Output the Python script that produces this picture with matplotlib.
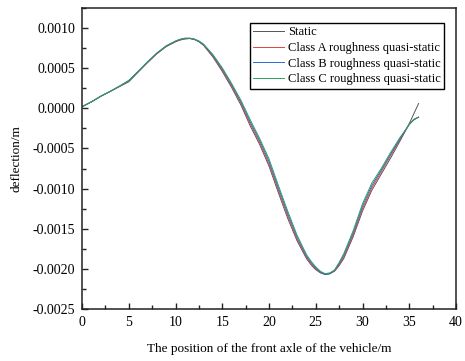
import matplotlib
matplotlib.use("Agg")
import matplotlib.pyplot as plt
from matplotlib.ticker import MultipleLocator, FormatStrFormatter

plt.rcParams['font.family'] = ['Liberation Serif', 'DejaVu Serif']
plt.rcParams['axes.unicode_minus'] = False

# Data (deflection values in units of 1e-4 m)
scale = 1e-4
position = [0, 1, 2, 3, 4, 5, 6, 7, 8, 9, 10, 10.5, 11, 11.5, 12, 12.5, 13, 14, 15, 16,
            17, 18, 19, 20, 21, 22, 23, 24, 24.5, 25, 25.5, 26, 26.5, 27, 27.5, 28,
            29, 30, 31, 32, 33, 34, 35, 35.5, 36]

static = [0.2, 0.8, 1.5, 2.1, 2.7, 3.3, 4.5, 5.7, 6.8, 7.7, 8.3, 8.52, 8.65, 8.7, 8.6, 8.3,
          7.85, 6.4, 4.6, 2.6, 0.4, -2.2, -4.5, -7.2, -10.5, -13.7, -16.5, -18.7, -19.5,
          -20.1, -20.5, -20.7, -20.6, -20.3, -19.6, -18.7, -16.0, -12.8, -10.2, -8.2,
          -6.2, -4.1, -1.9, -0.65, 0.6]

class_a = [0.2, 0.8, 1.5, 2.1, 2.75, 3.45, 4.55, 5.7, 6.8, 7.7, 8.3, 8.52, 8.65, 8.7, 8.6,
           8.32, 7.9, 6.5, 4.75, 2.8, 0.6, -1.95, -4.25, -6.9, -10.2, -13.4, -16.3,
           -18.55, -19.35, -20.0, -20.45, -20.7, -20.6, -20.25, -19.5, -18.5, -15.75,
           -12.5, -9.9, -7.9, -5.9, -3.9, -2.0, -1.35, -1.1]

class_b = [0.2, 0.8, 1.5, 2.1, 2.75, 3.45, 4.6, 5.75, 6.85, 7.75, 8.35, 8.57, 8.7, 8.72,
           8.6, 8.35, 7.95, 6.6, 4.9, 2.95, 0.8, -1.7, -4.0, -6.6, -9.9, -13.1, -16.05,
           -18.4, -19.2, -19.9, -20.4, -20.7, -20.6, -20.2, -19.35, -18.3, -15.5, -12.2,
           -9.6, -7.7, -5.7, -3.8, -2.0, -1.4, -1.1]

class_c = [0.2, 0.8, 1.5, 2.1, 2.75, 3.45, 4.6, 5.8, 6.9, 7.8, 8.4, 8.62, 8.75, 8.75,
           8.65, 8.4, 8.0, 6.7, 5.05, 3.1, 1.0, -1.45, -3.75, -6.3, -9.6, -12.8, -15.8,
           -18.2, -19.05, -19.75, -20.3, -20.6, -20.5, -20.15, -19.2, -18.1, -15.25,
           -11.9, -9.3, -7.5, -5.5, -3.65, -2.0, -1.45, -1.1]

labels = ["Static", "Class A roughness quasi-static",
          "Class B roughness quasi-static", "Class C roughness quasi-static"]
colors = ["#555555", "#e8403c", "#2a6ad8", "#2ca062"]

fig = plt.figure(figsize=(4.65, 3.61), dpi=100)
ax = fig.add_axes([82/465, 1 - 309/361, 374/465, 301/361])

for series, lab, col in zip([static, class_a, class_b, class_c], labels, colors):
    ax.plot(position, [v * scale for v in series], color=col, lw=0.7, label=lab)

ax.set_xlim(0, 40)
ax.set_ylim(-0.0025, 0.00125)
ax.xaxis.set_major_locator(MultipleLocator(5))
ax.xaxis.set_minor_locator(MultipleLocator(2.5))
ax.yaxis.set_major_locator(MultipleLocator(0.0005))
ax.yaxis.set_minor_locator(MultipleLocator(0.00025))
ax.yaxis.set_major_formatter(FormatStrFormatter('%.4f'))
ax.tick_params(which='both', direction='in', top=False, right=False,
               labelsize=10, width=1.0, colors='#222222', labelcolor='black')
ax.tick_params(which='major', length=4.5, pad=5)
ax.tick_params(which='minor', length=3)
for s in ax.spines.values():
    s.set_linewidth(1.1)
    s.set_color('#222222')

ax.set_xlabel("The position of the front axle of the vehicle/m", fontsize=9.5, labelpad=10)
ax.set_ylabel("deflection/m", fontsize=9.5, labelpad=7)

leg = ax.legend(loc='upper right', bbox_to_anchor=(0.968, 0.95), fontsize=9,
                frameon=True, fancybox=False, edgecolor='black', framealpha=1,
                handlelength=2.5, handletextpad=0.3, labelspacing=0.3,
                borderpad=0.25, borderaxespad=0)
leg.get_frame().set_linewidth(1.0)

fig.savefig("out.png", dpi=100)
